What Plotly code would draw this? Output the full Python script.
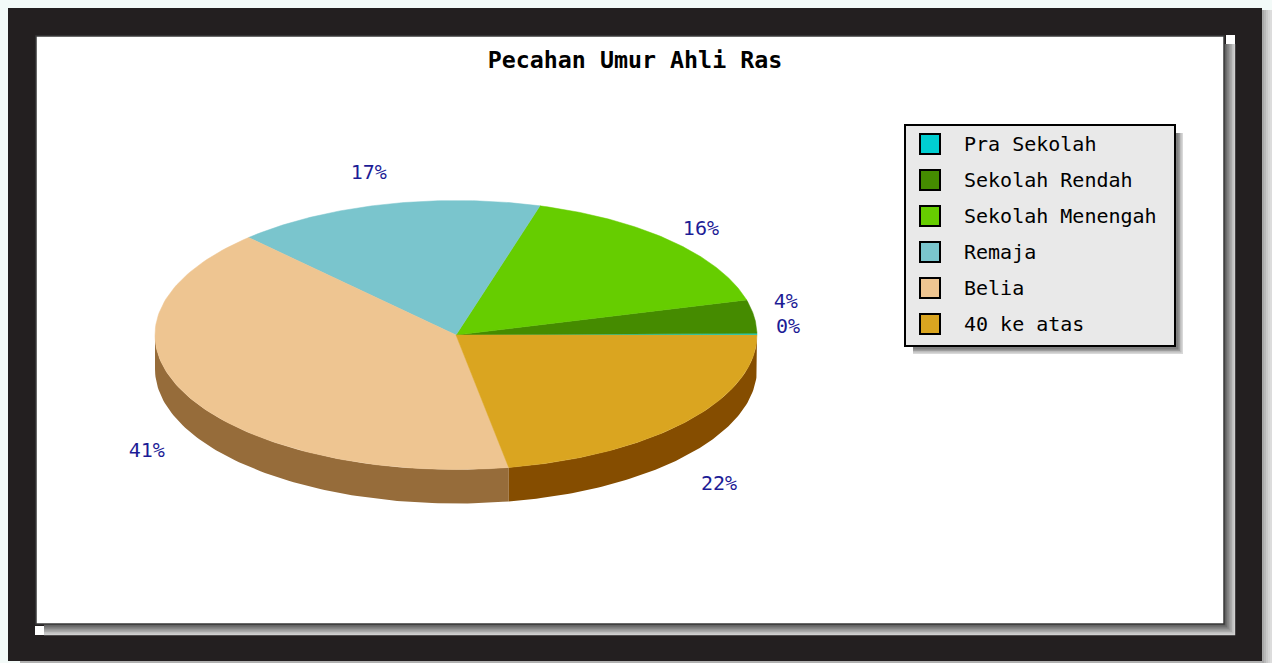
import numpy as np
import plotly.graph_objects as go

# ---- data ----
categories = ["Pra Sekolah", "Sekolah Rendah", "Sekolah Menengah", "Remaja", "Belia", "40 ke atas"]
values = [0.2, 4.0, 16.3, 16.6, 40.7, 22.2]
top_colors = ["#00CED1", "#458B00", "#66CD00", "#7AC5CD", "#EEC591", "#DAA520"]
side_colors = ["#007C7E", "#2A5300", "#3D7B00", "#4A7679", "#966C3A", "#854D00"]
title_text = "Pecahan Umur Ahli Ras"

# ---- layout constants (pixels) ----
W, H = 1272, 663
CX, CY, RX, RY, DEPTH = 456, 335, 301, 134.5, 34
LABEL_FACTOR = 1.14
LABEL_NUDGE = [(-11, -6), (-10, -11), (0, 2), (-6, -12), (-3, 14), (0, 18)]
MONO = "DejaVu Sans Mono"
LEG_L, LEG_T, LEG_R, LEG_B = 905, 125, 1175, 346
LEG_SWATCH_X, LEG_TEXT_X, LEG_ROW0, LEG_PITCH = 930, 964, 146, 36

total = sum(values)
fractions = np.array(values) / total
edges = np.concatenate([[0], np.cumsum(fractions)]) * 2 * np.pi


def ex(t):
    return CX + RX * np.cos(t)


def ey(t):
    return CY - RY * np.sin(t)


fig = go.Figure()

# sides of the disc: only the part that faces the viewer (angles pi..2pi)
for i, name in enumerate(categories):
    a, b = max(edges[i], np.pi), edges[i + 1]
    if b <= a:
        continue
    t = np.linspace(a, b, 90)
    xs = np.concatenate([ex(t), ex(t[::-1]), [ex(t[0])]])
    ys = np.concatenate([ey(t), ey(t[::-1]) + DEPTH, [ey(t[0])]])
    fig.add_trace(go.Scatter(x=xs, y=ys, mode="lines", fill="toself", fillcolor=side_colors[i],
                             line=dict(width=0, color=side_colors[i]), showlegend=False, hoverinfo="skip"))

# top surface slices
for i, name in enumerate(categories):
    t = np.linspace(edges[i], edges[i + 1], 120)
    xs = np.concatenate([[CX], ex(t), [CX]])
    ys = np.concatenate([[CY], ey(t), [CY]])
    fig.add_trace(go.Scatter(x=xs, y=ys, mode="lines", fill="toself", fillcolor=top_colors[i],
                             line=dict(width=0.5, color=top_colors[i]), showlegend=False,
                             name=name, hoverinfo="name"))

# percentage labels
mids = (edges[:-1] + edges[1:]) / 2
lx, ly, lt = [], [], []
for i, m in enumerate(mids):
    lower = np.sin(m) < 0
    lx.append(CX + LABEL_FACTOR * RX * np.cos(m) + LABEL_NUDGE[i][0])
    ly.append(CY - LABEL_FACTOR * RY * np.sin(m) + (DEPTH if lower else 0) + LABEL_NUDGE[i][1])
    lt.append(f"{round(fractions[i] * 100)}%")
fig.add_trace(go.Scatter(x=lx, y=ly, text=lt, mode="text", textposition="middle center",
                         textfont=dict(family=MONO, size=20, color="#1C1C96"),
                         showlegend=False, hoverinfo="skip"))

# legend rows: swatches and names, placed on the same pixel axes
rows = [LEG_ROW0 + LEG_PITCH * i for i in range(len(categories))]
fig.add_trace(go.Scatter(x=[LEG_SWATCH_X] * len(rows), y=[r - 2 for r in rows], mode="markers", showlegend=False,
                         text=categories, hoverinfo="text",
                         marker=dict(symbol="square", size=20, color=top_colors,
                                     line=dict(color="#000000", width=2))))
fig.add_trace(go.Scatter(x=[LEG_TEXT_X] * len(rows), y=rows, text=categories, mode="text",
                         textposition="middle right", showlegend=False, hoverinfo="skip",
                         textfont=dict(family=MONO, size=20, color="#000000")))


# ---- frame shapes ----
def rect(x0, y0, x1, y1, color, line=None, lw=0):
    return dict(type="rect", xref="x", yref="y", x0=x0, y0=y0, x1=x1, y1=y1, layer="below",
                fillcolor=color, line=dict(color=line or color, width=lw))


shapes = []
# outer shadow bands to the right and at the bottom
for k, c in enumerate(["#A8A8A8", "#B8B8B8", "#C8C8C8", "#D4D4D4", "#DCDCDC"]):
    shapes.append(rect(1262 + 2 * k, 10, 1264 + 2 * k, H, c))
shapes.append(rect(20, 661, 1262, H, "#B0B0B0"))
# dark board
shapes.append(rect(8, 8, 1262, 661, "#231F20"))
# panel drop shadow gradient
shades = ["#5A5A5A", "#6E6E6E", "#828282", "#969696", "#AAAAAA", "#BEBEBE", "#D0D0D0"]
for k in range(len(shades) - 1, -1, -1):
    d = 1.6 * (k + 1)
    shapes.append(rect(44, 44, 1224 + d, 624 + d, shades[k]))
# corner chips
shapes.append(rect(1226, 35, 1235, 44, "#FFFFFF"))
shapes.append(rect(35, 626, 44, 635, "#FFFFFF"))
# white panel
shapes.append(rect(36, 36, 1224, 624, "#FFFFFF", "#3A3A3A", 1.5))
# legend drop shadow and box
for k, c in enumerate(["#D8D8D8", "#BCBCBC", "#9C9C9C", "#808080"]):
    d = 8 - 1.5 * k
    shapes.append(rect(LEG_L + 8, LEG_T + 8, LEG_R + d, LEG_B + d, c))
shapes.append(rect(LEG_L, LEG_T, LEG_R, LEG_B, "#E9E9E9", "#000000", 2))

fig.update_layout(
    width=W, height=H, margin=dict(l=0, r=0, t=0, b=0, autoexpand=False),
    paper_bgcolor="#F3FAF8", plot_bgcolor="rgba(0,0,0,0)",
    xaxis=dict(range=[0, W], visible=False, fixedrange=True),
    yaxis=dict(range=[H, 0], visible=False, fixedrange=True),
    shapes=shapes,
    title=dict(text=f"<b>{title_text}</b>", x=635 / W, xanchor="center", y=1 - 60 / H, yanchor="middle",
               font=dict(family=MONO, size=23.3, color="#000000")),
    showlegend=False,
)

fig.write_html("out.html", config={"displayModeBar": False},
               post_script="document.body.style.margin='0';document.body.style.overflow='hidden';")
